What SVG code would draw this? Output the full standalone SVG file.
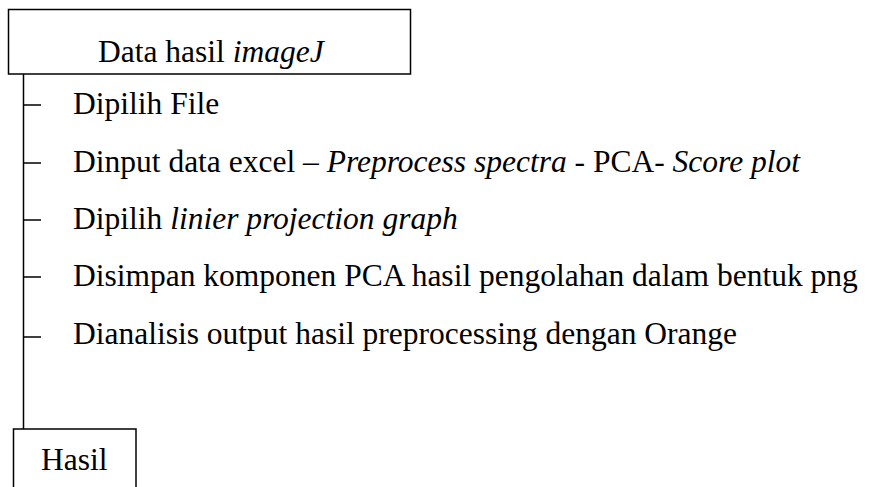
<svg xmlns="http://www.w3.org/2000/svg" width="877" height="487" viewBox="0 0 877 487">
<style>
text{font-family:"Liberation Serif","Times New Roman",serif;font-size:31.5px;fill:#000}
.i{font-style:italic}
.box{fill:#fff;stroke:#000;stroke-width:1.5}
.ln{stroke:#000;stroke-width:1.5;fill:none}
</style>
<rect width="877" height="487" fill="#fff"/>
<g id="connectors">
<line class="ln" x1="23.5" y1="74" x2="23.5" y2="429"/>
<line class="ln" x1="23.5" y1="105" x2="41" y2="105"/>
<line class="ln" x1="23.5" y1="163" x2="41" y2="163"/>
<line class="ln" x1="23.5" y1="220" x2="41" y2="220"/>
<line class="ln" x1="23.5" y1="277" x2="41" y2="277"/>
<line class="ln" x1="23.5" y1="337" x2="41" y2="337"/>
</g>
<g id="node-start">
<rect class="box" x="8.5" y="9.5" width="402" height="64.5"/>
<text x="98" y="62">Data hasil <tspan class="i">imageJ</tspan></text>
</g>
<g id="step1"><text x="73" y="114">Dipilih File</text></g>
<g id="step2"><text x="73" y="172">Dinput data excel – <tspan class="i">Preprocess spectra</tspan> - PCA- <tspan class="i">Score plot</tspan></text></g>
<g id="step3"><text x="73" y="229">Dipilih <tspan class="i">linier projection graph</tspan></text></g>
<g id="step4"><text x="73" y="286">Disimpan komponen PCA hasil pengolahan dalam bentuk png</text></g>
<g id="step5"><text x="73" y="344">Dianalisis output hasil preprocessing dengan Orange</text></g>
<g id="node-end">
<rect class="box" x="13.5" y="429" width="122.5" height="70"/>
<text x="41" y="470">Hasil</text>
</g>
</svg>
